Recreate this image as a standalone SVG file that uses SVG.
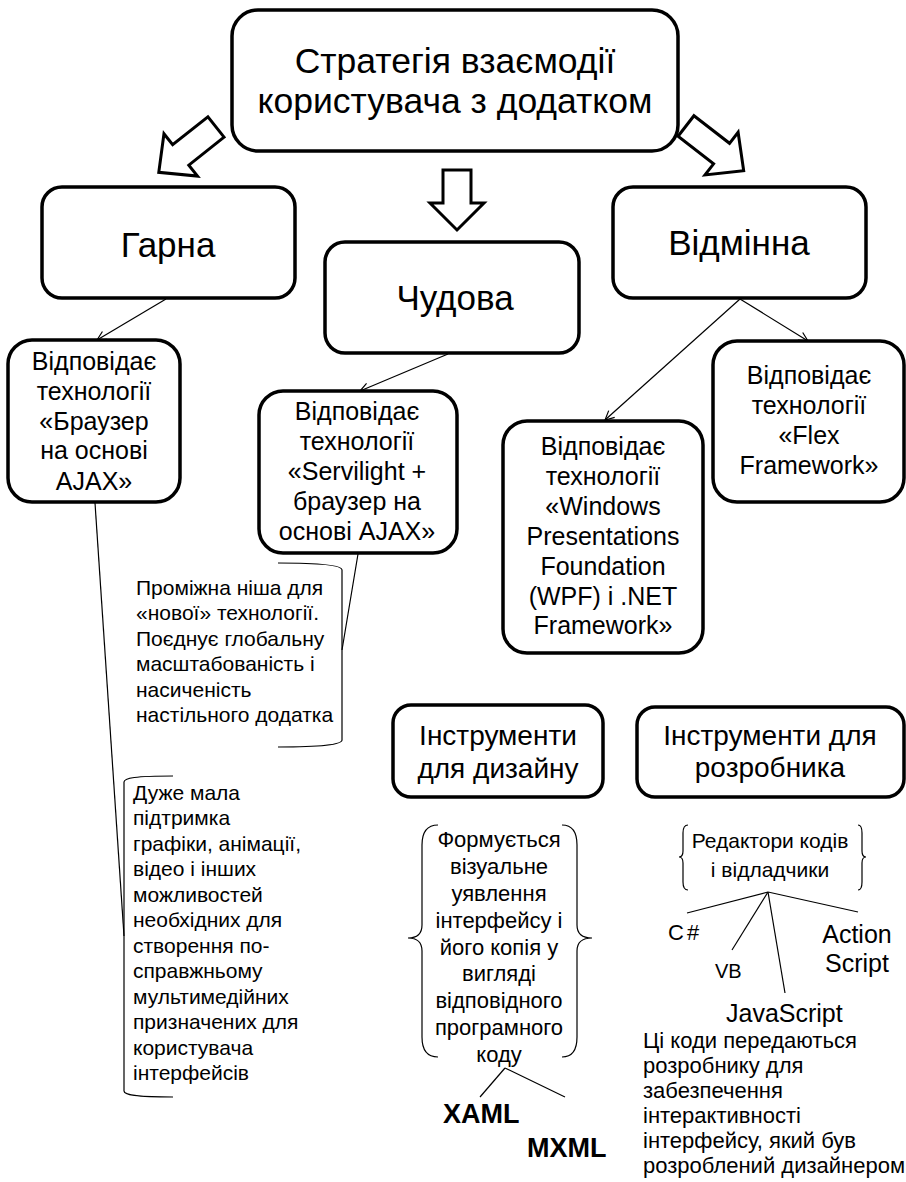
<svg xmlns="http://www.w3.org/2000/svg" width="906" height="1182" viewBox="0 0 906 1182">
<style>
  text { font-family: "Liberation Sans", Arial, sans-serif; fill: #000; }
  .box { fill: #fff; stroke: #000; stroke-width: 3.5; }
  .big { fill: #fff; stroke: #000; stroke-width: 3; stroke-linejoin: miter; }
  .ln { fill: none; stroke: #000; stroke-width: 1.2; }
  .br { fill: none; stroke: #000; stroke-width: 1.2; }
  .c { text-anchor: middle; }
  .t25 { font-size: 25px; }
  .t21 { font-size: 21px; }
  .t22 { font-size: 22px; }
  .t35 { font-size: 35px; }
</style>
<defs>
  <marker id="ah" viewBox="-10 -6 12 12" refX="0" refY="0" markerWidth="12" markerHeight="12" markerUnits="userSpaceOnUse" orient="auto">
    <path d="M-9,-4.5 L0,0 L-9,4.5" fill="none" stroke="#000" stroke-width="1.2"/>
  </marker>
</defs>

<g id="connectors">
  <polygon class="big" points="0,-13 45,-13 45,-27 73,0 45,27 45,13 0,13" transform="translate(216,127) rotate(141.6)"/>
  <polygon class="big" points="0,-14 33,-14 33,-27 60,0 33,27 33,14 0,14" transform="translate(457,170) rotate(90)"/>
  <polygon class="big" points="0,-13 45,-13 45,-27 73,0 45,27 45,13 0,13" transform="translate(686,126) rotate(37.8)"/>
  <line class="ln" x1="166" y1="299" x2="97" y2="340" marker-end="url(#ah)"/>
  <line class="ln" x1="448" y1="354" x2="360" y2="391" marker-end="url(#ah)"/>
  <line class="ln" x1="740" y1="299" x2="605" y2="420" marker-end="url(#ah)"/>
  <line class="ln" x1="740" y1="299" x2="808" y2="341" marker-end="url(#ah)"/>
  <line class="ln" x1="358" y1="554" x2="342" y2="650"/>
  <line class="ln" x1="95" y1="503" x2="124" y2="936"/>
  <line class="ln" x1="505" y1="1068" x2="480" y2="1097"/>
  <line class="ln" x1="505" y1="1068" x2="565" y2="1097"/>
  <line class="ln" x1="768" y1="892" x2="687" y2="913"/>
  <line class="ln" x1="768" y1="892" x2="732" y2="950"/>
  <line class="ln" x1="768" y1="892" x2="785" y2="993"/>
  <line class="ln" x1="768" y1="892" x2="858" y2="912"/>
</g>

<g id="root">
  <rect class="box" x="232" y="10" width="446" height="141" rx="26"/>
  <text x="455" y="73" font-size="35.5" class="c">Стратегія взаємодії</text>
  <text x="455" y="113" font-size="35.5" class="c">користувача з додатком</text>
</g>

<g id="good">
  <rect class="box" x="42" y="187" width="253" height="111" rx="20"/>
  <text x="168" y="257" class="c t35">Гарна</text>
</g>

<g id="great">
  <rect class="box" x="325" y="242" width="254" height="111" rx="20"/>
  <text x="455" y="310" class="c t35">Чудова</text>
</g>

<g id="excellent">
  <rect class="box" x="613" y="187" width="253" height="111" rx="20"/>
  <text x="739" y="255" class="c t35">Відмінна</text>
</g>

<g id="ajax">
  <rect class="box" x="8" y="340" width="172" height="162" rx="24"/>
  <text class="c t25" x="94" y="370">Відповідає</text>
  <text class="c t25" x="94" y="400">технології</text>
  <text class="c t25" x="94" y="430">«Браузер</text>
  <text class="c t25" x="94" y="459">на основі</text>
  <text class="c t25" x="94" y="490">AJAX»</text>
</g>

<g id="silverlight">
  <rect class="box" x="259" y="391" width="198" height="162" rx="24"/>
  <text class="c t25" x="357" y="420">Відповідає</text>
  <text class="c t25" x="357" y="450">технології</text>
  <text class="c t25" x="357" y="480">«Servilight +</text>
  <text class="c t25" x="357" y="510">браузер на</text>
  <text class="c t25" x="357" y="540">основі AJAX»</text>
</g>

<g id="wpf">
  <rect class="box" x="503" y="421" width="200" height="232" rx="24"/>
  <text class="c t25" x="603" y="455">Відповідає</text>
  <text class="c t25" x="603" y="485">технології</text>
  <text class="c t25" x="603" y="515">«Windows</text>
  <text class="c t25" x="603" y="545">Presentations</text>
  <text class="c t25" x="603" y="575">Foundation</text>
  <text class="c t25" x="603" y="605">(WPF) і .NET</text>
  <text class="c t25" x="603" y="634">Framework»</text>
</g>

<g id="flex">
  <rect class="box" x="713" y="341" width="191" height="161" rx="24"/>
  <text class="c t25" x="809" y="384">Відповідає</text>
  <text class="c t25" x="809" y="414">технології</text>
  <text class="c t25" x="809" y="444">«Flex</text>
  <text class="c t25" x="809" y="474">Framework»</text>
</g>

<g id="note-silverlight">
  <path class="br" d="M278,563 C320,563 342,565 342,570 L342,740 C342,745 320,747 278,747"/>
  <text class="t21" x="136" y="595">Проміжна ніша для</text>
  <text class="t21" x="136" y="620">«нової» технології.</text>
  <text class="t21" x="136" y="646">Поєднує глобальну</text>
  <text class="t21" x="136" y="671">масштабованість і</text>
  <text class="t21" x="136" y="697">насиченість</text>
  <text class="t21" x="136" y="722">настільного додатка</text>
</g>

<g id="note-ajax">
  <path class="br" d="M173,776 C135,776 124,778 124,782 L124,1091 C124,1095 135,1097 173,1097"/>
  <text class="t21" x="133" y="800">Дуже мала</text>
  <text class="t21" x="133" y="825">підтримка</text>
  <text class="t21" x="133" y="851">графіки, анімації,</text>
  <text class="t21" x="133" y="876">відео і інших</text>
  <text class="t21" x="133" y="902">можливостей</text>
  <text class="t21" x="133" y="927">необхідних для</text>
  <text class="t21" x="133" y="953">створення по-</text>
  <text class="t21" x="133" y="978">справжньому</text>
  <text class="t21" x="133" y="1004">мультимедійних</text>
  <text class="t21" x="133" y="1029">призначених для</text>
  <text class="t21" x="133" y="1055">користувача</text>
  <text class="t21" x="133" y="1080">інтерфейсів</text>
</g>

<g id="design-tools">
  <rect class="box" x="393" y="705" width="210" height="92" rx="18"/>
  <text class="c" font-size="28" x="498" y="745">Інструменти</text>
  <text class="c" font-size="28" x="498" y="778">для дизайну</text>
</g>

<g id="dev-tools">
  <rect class="box" x="637" y="707" width="267" height="90" rx="18"/>
  <text class="c" font-size="28" x="770" y="745">Інструменти для</text>
  <text class="c" font-size="28" x="770" y="777">розробника</text>
</g>

<g id="design-note">
  <path class="br" d="M438,825 Q422,825 422,845 L422,925 Q422,938 408,938 Q422,938 422,951 L422,1037 Q422,1057 438,1057"/>
  <path class="br" d="M562,825 Q577,825 577,845 L577,925 Q577,938 592,938 Q577,938 577,951 L577,1037 Q577,1057 562,1057"/>
  <text class="c t22" x="499" y="847">Формується</text>
  <text class="c t22" x="499" y="874">візуальне</text>
  <text class="c t22" x="499" y="901">уявлення</text>
  <text class="c t22" x="499" y="928">інтерфейсу і</text>
  <text class="c t22" x="499" y="955">його копія у</text>
  <text class="c t22" x="499" y="981">вигляді</text>
  <text class="c t22" x="499" y="1008">відповідного</text>
  <text class="c t22" x="499" y="1035">програмного</text>
  <text class="c t22" x="499" y="1062">коду</text>
</g>

<g id="xaml"><text x="443" y="1123" font-size="27" font-weight="bold">XAML</text></g>
<g id="mxml"><text x="527" y="1157" font-size="27" font-weight="bold">MXML</text></g>

<g id="dev-note">
  <path class="br" d="M688,825 Q683,825 683,833 L683,851 Q683,857 679,857 Q683,857 683,863 L683,882 Q683,890 688,890"/>
  <path class="br" d="M858,825 Q862,825 862,833 L862,851 Q862,857 866,857 Q862,857 862,863 L862,882 Q862,890 858,890"/>
  <text class="c t21" x="770" y="848">Редактори кодів</text>
  <text class="c t21" x="770" y="877">і відладчики</text>
</g>

<g id="csharp"><text class="t22" x="668" y="940" letter-spacing="3">C#</text></g>
<g id="vb"><text x="715" y="978" font-size="20">VB</text></g>
<g id="javascript"><text x="726" y="1022" font-size="25">JavaScript</text></g>
<g id="actionscript">
  <text class="c t25" x="857" y="943">Action</text>
  <text class="c t25" x="857" y="972">Script</text>
</g>

<g id="dev-footnote">
  <text class="t22" x="643" y="1048">Ці коди передаються</text>
  <text class="t22" x="643" y="1073">розробнику для</text>
  <text class="t22" x="643" y="1098">забезпечення</text>
  <text class="t22" x="643" y="1123">інтерактивності</text>
  <text class="t22" x="643" y="1148">інтерфейсу, який був</text>
  <text class="t22" x="643" y="1173">розроблений дизайнером</text>
</g>
</svg>
